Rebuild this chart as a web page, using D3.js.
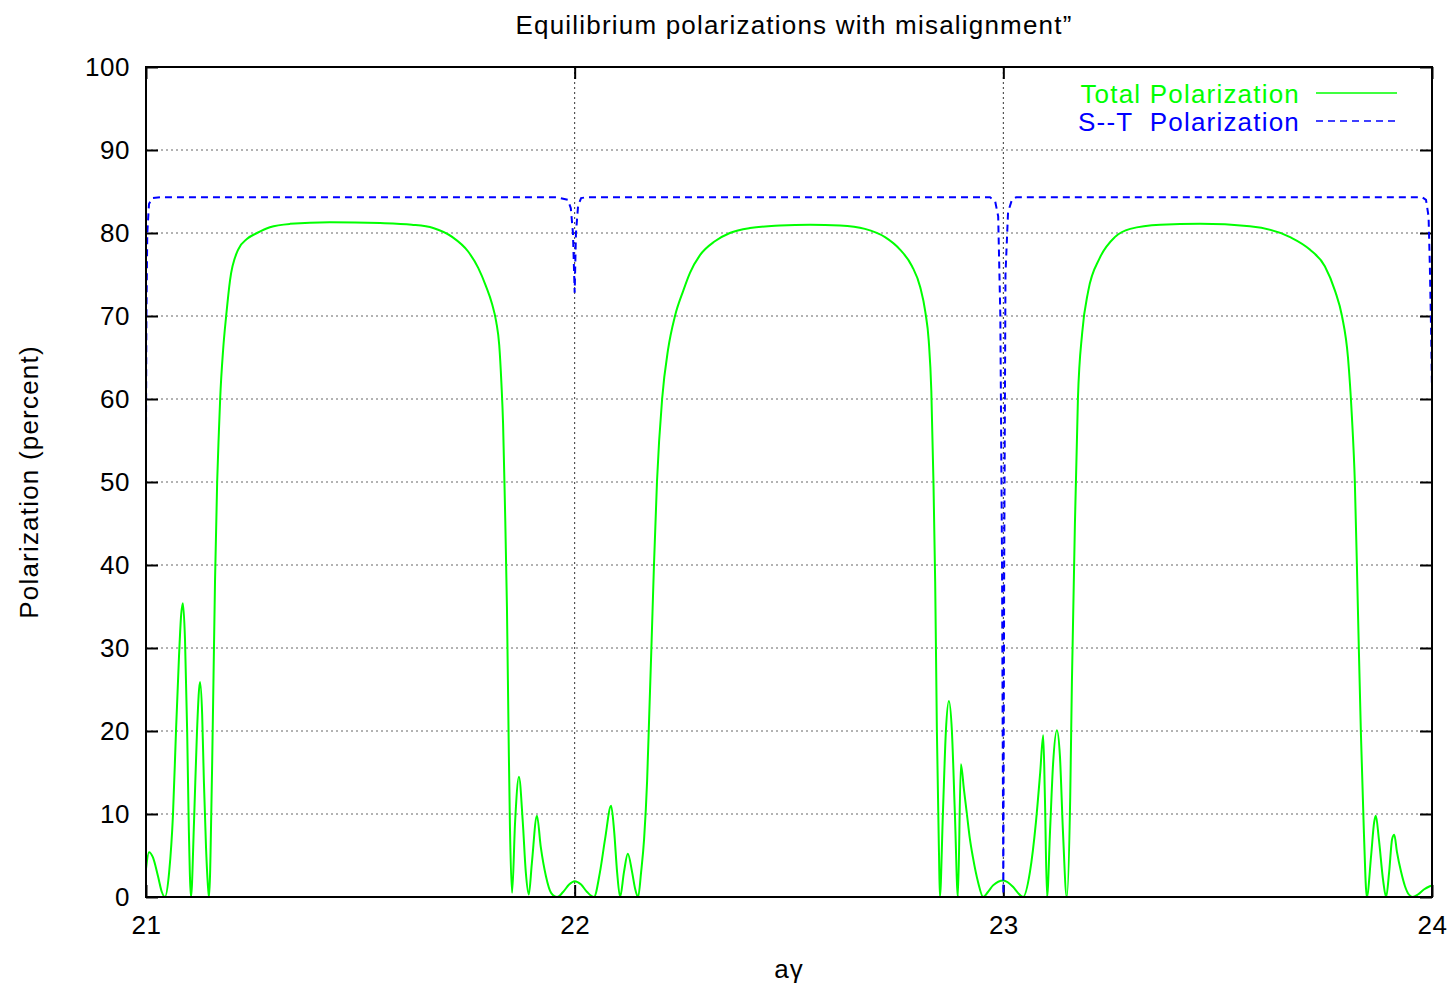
<!DOCTYPE html>
<html>
<head>
<meta charset="utf-8">
<script src="https://cdn.jsdelivr.net/npm/d3@7"></script>
<style>
    body { margin: 0; background: #fff; }
    text { font-family: "Liberation Sans", Arial, Helvetica, sans-serif; }
</style>
</head>
<body>
<div id="chart"></div>
<script>

// Total polarization (green)
var totalX = [21.000, 21.007, 21.016, 21.028, 21.037, 21.044, 21.054, 21.063, 21.070, 21.077,
    21.082, 21.086, 21.091, 21.096, 21.100, 21.105, 21.112, 21.119, 21.126, 21.131,
    21.135, 21.140, 21.145, 21.147, 21.154, 21.161, 21.166, 21.170, 21.173, 21.180,
    21.187, 21.196, 21.215, 21.236, 21.259, 21.289, 21.336, 21.429, 21.546, 21.620,
    21.670, 21.715, 21.751, 21.775, 21.793, 21.807, 21.817, 21.824, 21.829, 21.833,
    21.837, 21.842, 21.846, 21.849, 21.854, 21.861, 21.870, 21.879, 21.886, 21.893,
    21.900, 21.912, 21.921, 21.933, 21.945, 21.959, 21.973, 21.987, 22.000, 22.015,
    22.029, 22.045, 22.059, 22.071, 22.085, 22.092, 22.099, 22.106, 22.115, 22.124,
    22.134, 22.141, 22.148, 22.155, 22.162, 22.169, 22.174, 22.179, 22.185, 22.192,
    22.204, 22.218, 22.234, 22.253, 22.269, 22.292, 22.327, 22.362, 22.409, 22.479,
    22.549, 22.619, 22.677, 22.724, 22.759, 22.787, 22.806, 22.818, 22.826, 22.832,
    22.837, 22.841, 22.845, 22.850, 22.852, 22.859, 22.866, 22.873, 22.880, 22.887,
    22.894, 22.901, 22.908, 22.915, 22.922, 22.929, 22.941, 22.953, 22.964, 22.976,
    23.000, 23.023, 23.034, 23.046, 23.062, 23.076, 23.086, 23.093, 23.097, 23.102,
    23.109, 23.116, 23.125, 23.132, 23.139, 23.148, 23.156, 23.160, 23.167, 23.174,
    23.184, 23.198, 23.225, 23.260, 23.296, 23.366, 23.459, 23.575, 23.669, 23.715,
    23.750, 23.774, 23.790, 23.804, 23.813, 23.820, 23.827, 23.834, 23.841, 23.848,
    23.858, 23.865, 23.869, 23.876, 23.886, 23.893, 23.900, 23.907, 23.912, 23.918,
    23.928, 23.937, 23.946, 23.955, 23.967, 23.981, 23.995, 24.000];
var totalY = [3.4, 5.4, 4.8, 2.5, 0.6, 0, 3, 10, 20, 29,
    34, 35.4, 31, 20, 8, 0, 9, 20, 25.9, 22,
    14, 6, 1, 0, 15, 38, 50, 56, 60, 66,
    70, 74.3, 78, 79.3, 80, 80.7, 81.1, 81.3, 81.2, 81.0,
    80.6, 79.5, 77.8, 75.8, 73.6, 71.5, 69.3, 66.5, 62, 57,
    48, 35, 19, 8.5, 0.5, 9, 14.5, 9, 3, 0.3,
    4, 9.8, 6, 2.5, 0.5, 0, 0.6, 1.5, 1.9, 1.5,
    0.6, 0, 3, 7, 11, 8, 3, 0, 3, 5.2,
    3, 1, 0, 3, 7, 14, 22, 30, 40, 50,
    60, 66, 70, 73, 75.2, 77.3, 79, 80, 80.6, 80.9,
    81, 80.9, 80.5, 79.5, 78, 76, 73.5, 70.5, 67, 61,
    50, 38, 20, 5, 0, 10, 20, 23.6, 20, 10,
    0, 16, 13, 10, 7, 4.8, 1.8, 0, 0.6, 1.4,
    2.0, 1.2, 0.5, 0, 3, 9, 15, 19.5, 12, 0,
    8, 16, 20.1, 17, 8, 0, 12, 26, 45, 60,
    68, 73, 77, 79.5, 80.5, 81, 81.1, 80.8, 79.5, 78,
    76, 73, 70, 65, 58, 50, 35, 20, 8, 0,
    5, 9, 9.8, 7, 2, 0, 3, 7, 7.5, 5.5,
    3, 1.3, 0.3, 0, 0.3, 0.9, 1.3, 1.4];

// S--T polarization (blue dashed)
var stX = [21.000, 21.001, 21.003, 21.007, 21.014, 21.033, 21.959, 21.984, 21.991, 21.996,
    22.000, 22.003, 22.008, 22.015, 22.026, 22.969, 22.981, 22.988, 22.993, 22.997,
    23.000, 23.002, 23.005, 23.011, 23.020, 23.030, 23.977, 23.986, 23.992, 23.995,
    23.998, 24.000];
var stY = [55.5, 70, 80, 83.5, 84.2, 84.3, 84.3, 84.0, 83.0, 80,
    72.8, 80, 83.3, 84.2, 84.3, 84.3, 83.8, 82, 70, 40,
    0.3, 40, 75, 82.5, 84, 84.3, 84.3, 84, 82, 76,
    68, 61];

var xTicks = [21, 22, 23, 24];
var yTicks = [0, 10, 20, 30, 40, 50, 60, 70, 80, 90, 100];
var seriesNames = ["Total Polarization", "S--T  Polarization"];
var seriesColors = ["#00ff00", "#0000ff"];

var margin = { top: 67, right: 22, bottom: 92, left: 146 };
var width = 1454 - margin.left - margin.right,
    height = 989 - margin.top - margin.bottom;

var svg = d3.select("#chart").append("svg")
    .attr("width", 1454)
    .attr("height", 989);

var g = svg.append("g")
    .attr("transform", "translate(" + margin.left + "," + margin.top + ")");

// Scales
var x = d3.scaleLinear().domain([21, 24]).range([0, width]);
var y = d3.scaleLinear().domain([0, 100]).range([height, 0]);

// Grid
g.append("g")
    .attr("class", "grid")
    .selectAll("line.h")
    .data(yTicks.filter(function (d) { return d > 0 && d < 100; }))
    .enter().append("line")
    .attr("x1", 0).attr("x2", width)
    .attr("y1", function (d) { return y(d); })
    .attr("y2", function (d) { return y(d); })
    .attr("stroke", "#666")
    .attr("stroke-width", 1)
    .attr("stroke-dasharray", "2,3");

g.append("g")
    .selectAll("line.v")
    .data(xTicks.filter(function (d) { return d > 21 && d < 24; }))
    .enter().append("line")
    .attr("y1", 0).attr("y2", height)
    .attr("x1", function (d) { return x(d); })
    .attr("x2", function (d) { return x(d); })
    .attr("stroke", "#333")
    .attr("stroke-width", 1)
    .attr("stroke-dasharray", "2,3");

// Axes (ticks point inward, on all four sides)
var fontSize = "26px";
function styleAxis(sel) {
    sel.select(".domain").remove();
    sel.selectAll(".tick line").attr("stroke", "#000").attr("stroke-width", 2);
    sel.selectAll(".tick text").attr("font-size", fontSize).attr("fill", "#000")
        .style("font-family", "'Liberation Sans', Arial, sans-serif")
        .style("letter-spacing", "0.5px");
}

g.append("g")
    .attr("transform", "translate(0," + height + ")")
    .call(d3.axisBottom(x).tickValues(xTicks).tickFormat(d3.format("d"))
        .tickSizeInner(-12).tickSizeOuter(0).tickPadding(19))
    .call(styleAxis);

g.append("g")
    .call(d3.axisTop(x).tickValues(xTicks).tickFormat("")
        .tickSizeInner(-12).tickSizeOuter(0))
    .call(styleAxis);

g.append("g")
    .call(d3.axisLeft(y).tickValues(yTicks).tickFormat(d3.format("d"))
        .tickSizeInner(-12).tickSizeOuter(0).tickPadding(16))
    .call(styleAxis);

g.append("g")
    .attr("transform", "translate(" + width + ",0)")
    .call(d3.axisRight(y).tickValues(yTicks).tickFormat("")
        .tickSizeInner(-12).tickSizeOuter(0))
    .call(styleAxis);

// Curves
var totalData = totalX.map(function (d, i) { return [d, totalY[i]]; });
var stData = stX.map(function (d, i) { return [d, stY[i]]; });

var line = d3.line()
    .x(function (d) { return x(d[0]); })
    .y(function (d) { return y(d[1]); })
    .curve(d3.curveMonotoneX);

g.append("path")
    .datum(totalData)
    .attr("d", line)
    .attr("fill", "none")
    .attr("stroke", seriesColors[0])
    .attr("stroke-width", 2);

g.append("path")
    .datum(stData)
    .attr("d", line.curve(d3.curveLinear))
    .attr("fill", "none")
    .attr("stroke", seriesColors[1])
    .attr("stroke-width", 2)
    .attr("stroke-dasharray", "7,5");

// Frame
g.append("rect")
    .attr("width", width)
    .attr("height", height)
    .attr("fill", "none")
    .attr("stroke", "#000")
    .attr("stroke-width", 2);

// Legend
var legend = g.selectAll(".legend")
    .data(seriesNames)
    .enter().append("g")
    .attr("transform", function (d, i) { return "translate(0," + (26 + i * 28) + ")"; });

legend.append("text")
    .attr("x", 1154)
    .attr("y", 10)
    .attr("text-anchor", "end")
    .attr("font-size", "26px")
    .style("letter-spacing", "1.2px")
    .style("white-space", "pre")
    .attr("fill", function (d, i) { return seriesColors[i]; })
    .text(function (d) { return d; });

legend.append("line")
    .attr("x1", 1170).attr("x2", 1251)
    .attr("y1", 0).attr("y2", 0)
    .attr("stroke", function (d, i) { return seriesColors[i]; })
    .attr("stroke-width", 1.5)
    .attr("stroke-dasharray", function (d, i) { return i === 1 ? "7,5" : null; });

// Titles
svg.append("text")
    .attr("x", 794)
    .attr("y", 34)
    .attr("text-anchor", "middle")
    .attr("font-size", "26px")
    .style("letter-spacing", "1.2px")
    .text("Equilibrium polarizations with misalignment\u201d");

svg.append("text")
    .attr("x", 789)
    .attr("y", 978)
    .attr("text-anchor", "middle")
    .attr("font-size", "26px")
    .style("letter-spacing", "1px")
    .text("a\u03b3");

svg.append("text")
    .attr("transform", "translate(38,482) rotate(-90)")
    .attr("text-anchor", "middle")
    .attr("font-size", "26px")
    .style("letter-spacing", "1.2px")
    .text("Polarization (percent)");

</script>
</body>
</html>
